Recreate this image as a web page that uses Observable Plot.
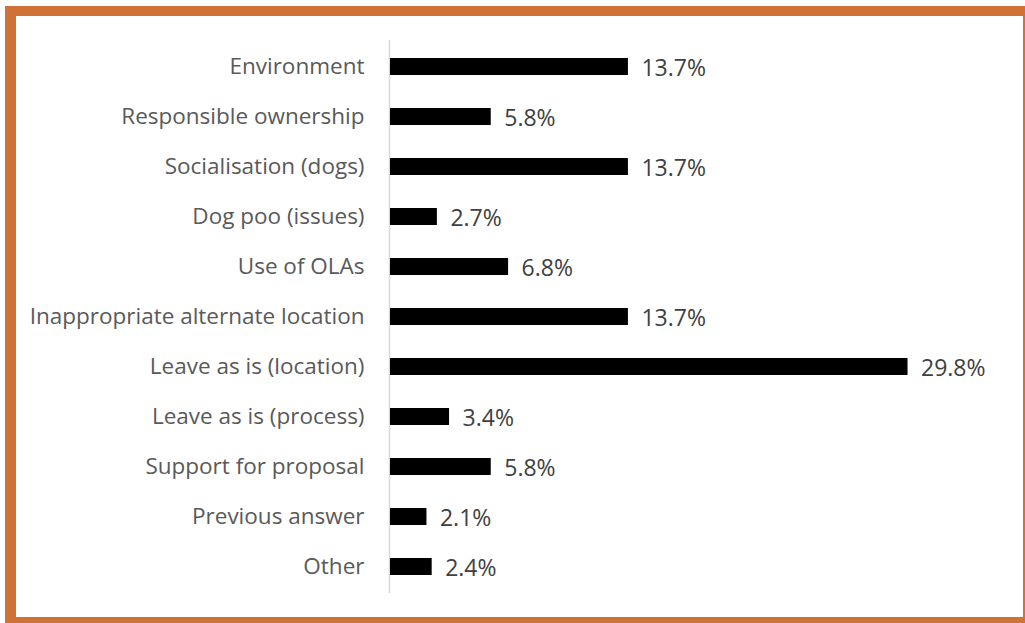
<!DOCTYPE html>
<html>
<head>
<meta charset="utf-8">
<script src="https://cdn.jsdelivr.net/npm/d3@7"></script>
<script src="https://cdn.jsdelivr.net/npm/@observablehq/plot@0.6"></script>
<style>
  html, body { margin: 0; padding: 0; background: #fff; overflow: hidden; }
  #wrap { position: relative; width: 1025px; height: 623px; overflow: hidden; }
  #frame { position: absolute; left: 5px; top: 6px; width: 1029px; height: 622px;
           border: 11px solid #D07238; border-top-width: 10px; box-sizing: border-box; pointer-events: none; }
</style>
</head>
<body>
<div id="wrap"><div id="frame"></div></div>
<script>
const categories = [
  "Environment",
  "Responsible ownership",
  "Socialisation (dogs)",
  "Dog poo (issues)",
  "Use of OLAs",
  "Inappropriate alternate location",
  "Leave as is (location)",
  "Leave as is (process)",
  "Support for proposal",
  "Previous answer",
  "Other"
];
const values = [13.7, 5.8, 13.7, 2.7, 6.8, 13.7, 29.8, 3.4, 5.8, 2.1, 2.4];
const data = categories.map((c, i) => ({category: c, value: values[i]}));

const chart = Plot.plot({
  width: 1025,
  height: 623,
  marginLeft: 390,
  marginRight: 114,
  marginTop: 40,
  marginBottom: 30,
  style: {fontFamily: "'Open Sans', sans-serif", background: "transparent", overflow: "visible"},
  x: {domain: [0, 30], axis: null},
  y: {domain: categories, axis: null, paddingInner: 0.66, paddingOuter: 0.33},
  marks: [
    Plot.ruleX([0], {stroke: "#d9d9d9", strokeWidth: 1.5, dx: -1}),
    Plot.barX(data, {y: "category", x: "value", fill: "#000"}),
    Plot.text(data, {y: "category", x: 0, text: "category", textAnchor: "end", dx: -26, fill: "#595959", fontSize: 22.5}),
    Plot.text(data, {y: "category", x: "value", text: d => d.value.toFixed(1) + "%", textAnchor: "start", dx: 13, dy: 2, fill: "#404040", fontSize: 23}),
  ]
});
chart.style.position = "absolute";
chart.style.left = "0";
chart.style.top = "0";
document.getElementById("wrap").prepend(chart);
</script>
</body>
</html>
